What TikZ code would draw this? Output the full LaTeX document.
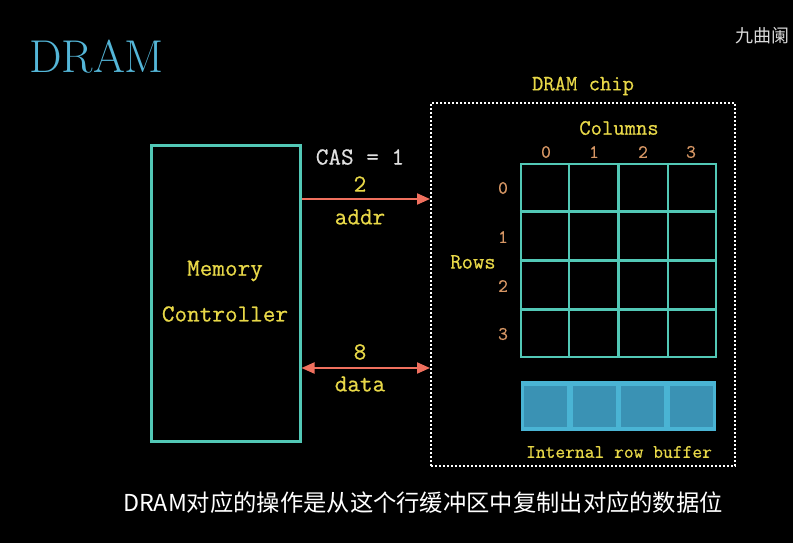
\documentclass[tikz,border=0pt]{standalone}
\usepackage{fontspec}
\newfontfamily\cjk{Noto Sans CJK SC}
\newfontfamily\monob{Latin Modern Mono}[FakeBold=0.6]
\usetikzlibrary{arrows.meta,calc}
\definecolor{bg}{RGB}{0,0,0}
\definecolor{teal}{RGB}{82,200,182}
\definecolor{ylw}{RGB}{232,216,72}
\definecolor{org}{RGB}{214,150,100}
\definecolor{salmon}{RGB}{240,112,94}
\definecolor{ttl}{RGB}{84,182,216}
\definecolor{bufout}{RGB}{74,180,212}
\definecolor{bufin}{RGB}{58,146,180}
\tikzset{
  mono/.style={font=\monob\fontsize{24.5}{26}\selectfont, inner sep=0pt},
  ylab/.style={mono, text=ylw},
  small/.style={font=\monob\fontsize{22}{24}\selectfont, inner sep=0pt, text=ylw},
  idx/.style={font=\monob\fontsize{19}{20}\selectfont, inner sep=0pt, text=org},
  bus/.style={draw=salmon, line width=2pt, -{Triangle[length=13pt,width=11pt]}},
  dbus/.style={draw=salmon, line width=2pt, {Triangle[length=13pt,width=11pt]}-{Triangle[length=13pt,width=11pt]}},
  cell/.style={draw=none, fill=bufin, minimum width=43pt, minimum height=41pt, inner sep=0pt},
}
\begin{document}
\begin{tikzpicture}[x=1pt,y=-1pt]
\useasboundingbox (0,0) rectangle (793,543);
\fill[bg] (0,0) rectangle (793,543);

% title and watermark
\node[anchor=base west, inner sep=0pt, text=ttl, font=\fontsize{46}{46}\selectfont] (title) at (29,73) {DRAM};
\node[anchor=west, inner sep=0pt, text=white!85!black, font=\cjk\fontsize{18}{18}\selectfont] (wm) at (735,36) {九曲阑};

% memory controller
\node[draw=teal, line width=3pt, minimum width=149pt, minimum height=296pt, inner sep=0pt] (mc) at (225.5,293) {};
\node[ylab] (mem) at (225,271) {Memory};
\node[ylab] (ctl) at (225,314) {Controller};

% DRAM chip box
\node[draw=white, line width=2pt, dash pattern=on 2pt off 2pt, minimum width=304pt, minimum height=363pt, inner sep=0pt] (chip) at (583,284.5) {};
\node[small] (chipl) at (583,86) {DRAM chip};

% buses
\coordinate (ya) at (360,199);
\coordinate (yd) at (360,368);
\draw[bus] (mc.east |- ya) -- (chip.west |- ya);
\draw[dbus] (mc.east |- yd) -- (chip.west |- yd);
\node[mono, text=white!88!black] (cas) at (360,157) {CAS = 1};
\node[ylab] (two) at (360,184) {2};
\node[ylab] (addr) at (360,217) {addr};
\node[ylab] (eight) at (360,352) {8};
\node[ylab] (data) at (360,384) {data};

% grid
\node[draw=teal, line width=2.5pt, minimum width=195pt, minimum height=193pt, inner sep=0pt] (grid) at (618.5,260.5) {};
\foreach \i in {1,2,3}{
  \draw[teal, line width=2.5pt] ($(grid.north west)!\i/4!(grid.north east)$) -- ($(grid.south west)!\i/4!(grid.south east)$);
  \draw[teal, line width=2.5pt] ($(grid.north west)!\i/4!(grid.south west)$) -- ($(grid.north east)!\i/4!(grid.south east)$);
}
\node[small] (cols) at (619,128) {Columns};
\node[small] (rows) at (473,262) {Rows};
\foreach \i/\x in {0/546,1/594,2/643,3/691}{
  \node[idx] (c\i) at (\x,152) {\i};
}
\foreach \i/\y in {0/188,1/237,2/286,3/334}{
  \node[idx] (r\i) at (503,\y) {\i};
}

% row buffer
\node[fill=bufout, minimum width=195pt, minimum height=50pt, inner sep=0pt] (buf) at (618.5,406) {};
\foreach \i/\x in {0/545.6,1/594.2,2/642.8,3/691.4}{
  \node[cell] (b\i) at (\x,406) {};
}
\node[font=\monob\fontsize{19}{20}\selectfont, inner sep=0pt, text=ylw] (bufl) at (619,452) {Internal row buffer};

% subtitle
\node[inner sep=0pt, text=white, font=\cjk\fontsize{23.3}{24}\selectfont] (sub) at (423,503) {DRAM对应的操作是从这个行缓冲区中复制出对应的数据位};
\end{tikzpicture}
\end{document}
